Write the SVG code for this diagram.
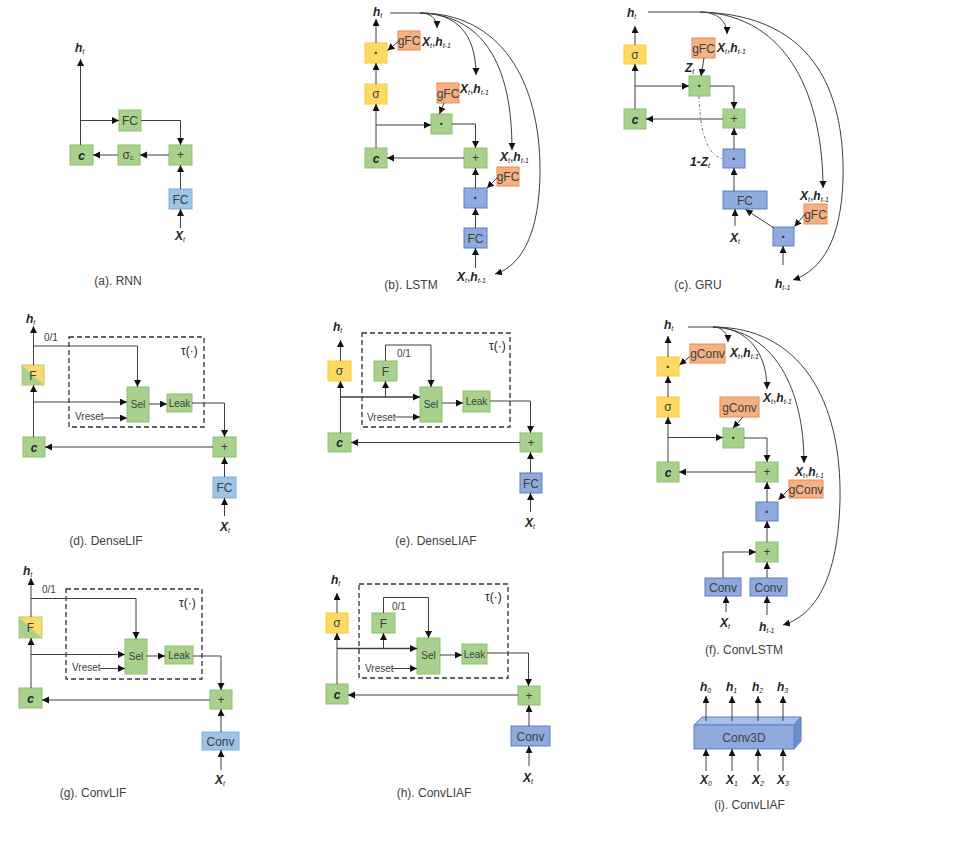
<svg xmlns="http://www.w3.org/2000/svg" width="958" height="852" viewBox="0 0 958 852">
<defs>
<marker id="ar" markerUnits="userSpaceOnUse" markerWidth="8" markerHeight="8" refX="7" refY="3.5" orient="auto"><path d="M0,0 L7,3.5 L0,7 z" fill="#111"/></marker>
<style>
text{font-family:"Liberation Sans",Arial,sans-serif;fill:#222}
.g{fill:#A9D18E;stroke:#8DC06A;stroke-width:1}
.bl{fill:#9DC3E6;stroke:#7BAFDE;stroke-width:1}
.bd{fill:#8FAADC;stroke:#5B7FCB;stroke-width:1}
.y{fill:#FFD966;stroke:#FFC72E;stroke-width:1}
.o{fill:#F4B183;stroke:#EC8A4E;stroke-width:1}
.t{font-size:12px;fill:#404040;text-anchor:middle}
.ts{font-size:10px;fill:#404040;text-anchor:middle}
.dot{font-size:14px;font-weight:bold;fill:#333;text-anchor:middle}
.cap{font-size:12px;fill:#404040;text-anchor:middle}
.v{font-style:italic;font-weight:bold;font-size:12px}
.s{font-style:italic;font-size:7px}
.sm{font-size:10px;fill:#404040}
.cl{font-style:italic;font-weight:bold;font-size:12px;text-anchor:middle}
.conn path{fill:none;stroke:#404040;stroke-width:1;marker-end:url(#ar)}
.dash{fill:none;stroke:#333;stroke-width:1.3;stroke-dasharray:5,3}
</style>
</defs>
<rect width="958" height="852" fill="#fff"/>

<!-- (a) RNN -->
<g id="a-c"><rect class="g" x="70" y="145" width="23" height="20"/><text class="cl" x="81.5" y="159.5">c</text></g>
<g id="a-fc1"><rect class="g" x="119" y="110" width="22" height="21"/><text class="t" x="130" y="125">FC</text></g>
<g id="a-sig"><rect class="g" x="118" y="145" width="22" height="20"/><text class="t" x="128" y="159">σ<tspan font-size="7" dy="1">c</tspan></text></g>
<g id="a-plus"><rect class="g" x="169" y="145" width="23" height="20"/><text class="t" x="180.5" y="159">+</text></g>
<g id="a-fc2"><rect class="bl" x="169" y="189" width="23" height="20"/><text class="t" x="180.5" y="203.5">FC</text></g>
<g id="a-labels"><text x="75" y="52"><tspan class="v">h</tspan><tspan class="s" dy="2">t</tspan></text>
<text x="175" y="240"><tspan class="v">X</tspan><tspan class="s" dy="2">t</tspan></text></g>
<g id="a-conn" class="conn">
<path d="M80.5,145 V59"/><path d="M80.5,120.5 H119"/><path d="M141,120.5 H180.5 V145"/>
<path d="M169,155 H140"/><path d="M118,155 H93"/><path d="M180.5,189 V165"/><path d="M180.5,228 V209"/>
</g>
<text class="cap" x="118" y="285">(a). RNN</text>

<!-- (b) LSTM -->
<g id="b-ydot"><rect class="y" x="365" y="43" width="22" height="20"/><text class="dot" x="376" y="58">·</text></g>
<g id="b-sig"><rect class="y" x="365" y="84" width="22" height="20"/><text class="t" x="376" y="98">σ</text></g>
<g id="b-c"><rect class="g" x="365" y="148" width="22" height="20"/><text class="cl" x="376" y="162.5">c</text></g>
<g id="b-gfc1"><rect class="o" x="398" y="31" width="22" height="19"/><text class="t" x="409" y="45">gFC</text></g>
<g id="b-gdot"><rect class="g" x="431" y="114" width="21" height="20"/><text class="dot" x="441.5" y="129">·</text></g>
<g id="b-gfc2"><rect class="o" x="437" y="83" width="22" height="20"/><text class="t" x="448" y="97.5">gFC</text></g>
<g id="b-plus"><rect class="g" x="464" y="148" width="23" height="20"/><text class="t" x="475.5" y="162">+</text></g>
<g id="b-bdot"><rect class="bd" x="464" y="188" width="23" height="20"/><text class="dot" x="475.5" y="203">·</text></g>
<g id="b-gfc3"><rect class="o" x="497" y="167" width="22" height="19"/><text class="t" x="508" y="181">gFC</text></g>
<g id="b-fc"><rect class="bd" x="464" y="228" width="23" height="20"/><text class="t" x="475.5" y="242.5">FC</text></g>
<g id="b-labels">
<text x="373" y="16"><tspan class="v">h</tspan><tspan class="s" dy="2">t</tspan></text>
<text x="422" y="46"><tspan class="v">X</tspan><tspan class="s" dy="2">t</tspan><tspan dy="-2" font-size="12">,</tspan><tspan class="v">h</tspan><tspan class="s" dy="2">t-1</tspan></text>
<text x="460" y="93"><tspan class="v">X</tspan><tspan class="s" dy="2">t</tspan><tspan dy="-2" font-size="12">,</tspan><tspan class="v">h</tspan><tspan class="s" dy="2">t-1</tspan></text>
<text x="500" y="161"><tspan class="v">X</tspan><tspan class="s" dy="2">t</tspan><tspan dy="-2" font-size="12">,</tspan><tspan class="v">h</tspan><tspan class="s" dy="2">t-1</tspan></text>
<text x="457" y="281"><tspan class="v">X</tspan><tspan class="s" dy="2">t</tspan><tspan dy="-2" font-size="12">,</tspan><tspan class="v">h</tspan><tspan class="s" dy="2">t-1</tspan></text>
</g>
<g id="b-conn" class="conn">
<path d="M376,148 V104"/><path d="M376,84 V63"/><path d="M376,43 V19"/>
<path d="M376,125 H431"/><path d="M452,124 H475.5 V148"/><path d="M464,158 H387"/>
<path d="M475.5,188 V168"/><path d="M475.5,228 V208"/><path d="M475.5,268 V248"/>
<path d="M399.5,40.5 L387.5,50.5"/><path d="M444,103 L439.5,114"/><path d="M498,177 L487,188"/>
<path d="M390,13 H420 C430,13 437,18 437,28"/>
<path d="M420,13 C455,13 476,32 476,75"/>
<path d="M420,13 C482,15 512,62 512,150"/>
<path d="M420,13 C500,13 540,80 540,170 C540,232 522,266 495,274"/>
</g>
<text class="cap" x="411" y="289">(b). LSTM</text>

<!-- (c) GRU -->
<g id="c-sig"><rect class="y" x="624" y="45" width="22" height="19"/><text class="t" x="635" y="59">σ</text></g>
<g id="c-c"><rect class="g" x="624" y="109" width="22" height="20"/><text class="cl" x="635" y="123.5">c</text></g>
<g id="c-gfc1"><rect class="o" x="692" y="38" width="23" height="20"/><text class="t" x="703.5" y="52.5">gFC</text></g>
<g id="c-gdot"><rect class="g" x="689" y="76" width="21" height="20"/><text class="dot" x="699.5" y="91">·</text></g>
<g id="c-plus"><rect class="g" x="723" y="109" width="22" height="19"/><text class="t" x="734" y="123">+</text></g>
<g id="c-bdot"><rect class="bd" x="723" y="149" width="22" height="19"/><text class="dot" x="734" y="163.5">·</text></g>
<g id="c-fc"><rect class="bd" x="723" y="191" width="44" height="18"/><text class="t" x="745" y="204.5">FC</text></g>
<g id="c-sdot"><rect class="bd" x="773" y="227" width="21" height="19"/><text class="dot" x="783.5" y="241.5">·</text></g>
<g id="c-gfc2"><rect class="o" x="804" y="204" width="23" height="20"/><text class="t" x="815.5" y="218.5">gFC</text></g>
<g id="c-labels">
<text x="627" y="17"><tspan class="v">h</tspan><tspan class="s" dy="2">t</tspan></text>
<text x="717" y="52"><tspan class="v">X</tspan><tspan class="s" dy="2">t</tspan><tspan dy="-2" font-size="12">,</tspan><tspan class="v">h</tspan><tspan class="s" dy="2">t-1</tspan></text>
<text x="685" y="72"><tspan class="v">Z</tspan><tspan class="s" dy="2">t</tspan></text>
<text x="690" y="166"><tspan class="v">1-Z</tspan><tspan class="s" dy="2">t</tspan></text>
<text x="730" y="242"><tspan class="v">X</tspan><tspan class="s" dy="2">t</tspan></text>
<text x="800" y="200"><tspan class="v">X</tspan><tspan class="s" dy="2">t</tspan><tspan dy="-2" font-size="12">,</tspan><tspan class="v">h</tspan><tspan class="s" dy="2">t-1</tspan></text>
<text x="775" y="288"><tspan class="v">h</tspan><tspan class="s" dy="2">t-1</tspan></text>
</g>
<g id="c-conn" class="conn">
<path d="M635,109 V64"/><path d="M635,45 V26"/><path d="M635,86 H689"/>
<path d="M710,86 H734 V109"/><path d="M723,119 H646"/><path d="M734,149 V128"/>
<path d="M734,191 V168"/><path d="M735,226 V209"/><path d="M774,228 L745.5,209.5"/>
<path d="M805,214 L794.5,226.5"/><path d="M783,265 V246"/><path d="M704,58 L701,76"/>
<path d="M648,12 H700 C716,12 727,20 727,34"/>
<path d="M700,12 C790,15 823,100 823,188"/>
<path d="M700,12 C820,15 845,100 843,180 C841,240 822,270 793,280"/>
</g>
<path d="M699,96 C700,130 706,155 723,159" fill="none" stroke="#555" stroke-width="0.8" stroke-dasharray="3,2,1,2"/>
<text class="cap" x="698" y="289">(c). GRU</text>

<!-- (d) DenseLIF -->
<g id="d-f"><polygon points="22,365 44,365 44,385" fill="#FFD966"/><polygon points="22,365 44,385 22,385" fill="#A9D18E"/><rect x="22" y="365" width="22" height="20" fill="none" stroke="#B5C97A"/><text class="t" x="33" y="379.5">F</text></g>
<g id="d-c"><rect class="g" x="23" y="437" width="22" height="20"/><text class="cl" x="34" y="451.5">c</text></g>
<rect id="d-tau" class="dash" x="69" y="337" width="135" height="90"/>
<g id="d-sel"><rect class="g" x="127" y="387" width="22" height="35"/><text class="ts" x="138" y="408">Sel</text></g>
<g id="d-leak"><rect class="g" x="167" y="394" width="25" height="18"/><text class="ts" x="179.5" y="407">Leak</text></g>
<g id="d-plus"><rect class="g" x="213" y="437" width="23" height="20"/><text class="t" x="224.5" y="451">+</text></g>
<g id="d-fc"><rect class="bl" x="213" y="477" width="23" height="21"/><text class="t" x="224.5" y="492">FC</text></g>
<g id="d-labels">
<text x="26" y="323"><tspan class="v">h</tspan><tspan class="s" dy="2">t</tspan></text>
<text x="181" y="355" font-size="12">τ(·)</text>
<text class="sm" x="44" y="341">0/1</text>
<text class="sm" x="75" y="420">Vreset</text>
<text x="220" y="531"><tspan class="v">X</tspan><tspan class="s" dy="2">t</tspan></text>
</g>
<g id="d-conn" class="conn">
<path d="M33.5,437 V385"/><path d="M33.5,365 V326"/><path d="M33.5,346 H137.5 V387"/>
<path d="M33.5,402 H127"/><path d="M103,418 H127"/><path d="M149,404 H167"/>
<path d="M192,403 H224.5 V437"/><path d="M213,447 H45"/><path d="M224.5,477 V457"/><path d="M224.5,516 V498"/>
</g>
<text class="cap" x="106" y="545">(d). DenseLIF</text>

<!-- (e) DenseLIAF -->
<g id="e-sig"><rect class="y" x="328" y="361" width="23" height="20"/><text class="t" x="339.5" y="375">σ</text></g>
<g id="e-c"><rect class="g" x="328" y="433" width="23" height="19"/><text class="cl" x="339.5" y="447">c</text></g>
<rect id="e-tau" class="dash" x="362" y="333" width="148" height="94"/>
<g id="e-f"><rect class="g" x="374" y="361" width="23" height="20"/><text class="t" x="385.5" y="375.5">F</text></g>
<g id="e-sel"><rect class="g" x="420" y="387" width="22" height="35"/><text class="ts" x="431" y="408">Sel</text></g>
<g id="e-leak"><rect class="g" x="463" y="391" width="27" height="21"/><text class="ts" x="476.5" y="405">Leak</text></g>
<g id="e-plus"><rect class="g" x="520" y="433" width="22" height="19"/><text class="t" x="531" y="447">+</text></g>
<g id="e-fc"><rect class="bd" x="520" y="473" width="22" height="20"/><text class="t" x="531" y="487.5">FC</text></g>
<g id="e-labels">
<text x="333" y="331"><tspan class="v">h</tspan><tspan class="s" dy="2">t</tspan></text>
<text x="489" y="350" font-size="12">τ(·)</text>
<text class="sm" x="397" y="357">0/1</text>
<text class="sm" x="367" y="421">Vreset</text>
<text x="525" y="527"><tspan class="v">X</tspan><tspan class="s" dy="2">t</tspan></text>
</g>
<g id="e-conn" class="conn">
<path d="M340.5,433 V381"/><path d="M340.5,361 V340"/><path d="M340.5,397 H420" style="stroke-width:1.4"/>
<path d="M385.5,397 V381"/><path d="M385.5,361 V345 H431 V387"/><path d="M395,417 H420"/>
<path d="M442,403 H463"/><path d="M490,401 H530.5 V433"/><path d="M520,442.5 H351"/>
<path d="M530.5,473 V452"/><path d="M530.5,512 V493"/>
</g>
<text class="cap" x="436" y="545">(e). DenseLIAF</text>

<!-- (f) ConvLSTM -->
<g id="f-ydot"><rect class="y" x="657" y="357" width="22" height="19"/><text class="dot" x="668" y="371.5">·</text></g>
<g id="f-gconv1"><rect class="o" x="690" y="344" width="35" height="19"/><text class="t" x="707.5" y="358">gConv</text></g>
<g id="f-sig"><rect class="y" x="657" y="397" width="22" height="20"/><text class="t" x="668" y="411">σ</text></g>
<g id="f-c"><rect class="g" x="657" y="462" width="22" height="20"/><text class="cl" x="668" y="476.5">c</text></g>
<g id="f-gdot"><rect class="g" x="723" y="428" width="21" height="20"/><text class="dot" x="733.5" y="443">·</text></g>
<g id="f-gconv2"><rect class="o" x="720" y="397" width="39" height="20"/><text class="t" x="739.5" y="411.5">gConv</text></g>
<g id="f-plus1"><rect class="g" x="756" y="462" width="22" height="20"/><text class="t" x="767" y="476">+</text></g>
<g id="f-bdot"><rect class="bd" x="756" y="502" width="22" height="19"/><text class="dot" x="767" y="516.5">·</text></g>
<g id="f-gconv3"><rect class="o" x="789" y="480" width="34" height="18"/><text class="t" x="806" y="493.5">gConv</text></g>
<g id="f-plus2"><rect class="g" x="756" y="542" width="22" height="20"/><text class="t" x="767" y="556">+</text></g>
<g id="f-conv1"><rect class="bd" x="705" y="578" width="36" height="18"/><text class="t" x="723" y="592" font-size="13">Conv</text></g>
<g id="f-conv2"><rect class="bd" x="750" y="578" width="37" height="18"/><text class="t" x="768.5" y="592" font-size="13">Conv</text></g>
<g id="f-labels">
<text x="664" y="329"><tspan class="v">h</tspan><tspan class="s" dy="2">t</tspan></text>
<text x="730" y="357"><tspan class="v">X</tspan><tspan class="s" dy="2">t</tspan><tspan dy="-2" font-size="12">,</tspan><tspan class="v">h</tspan><tspan class="s" dy="2">t-1</tspan></text>
<text x="763" y="402"><tspan class="v">X</tspan><tspan class="s" dy="2">t</tspan><tspan dy="-2" font-size="12">,</tspan><tspan class="v">h</tspan><tspan class="s" dy="2">t-1</tspan></text>
<text x="795" y="476"><tspan class="v">X</tspan><tspan class="s" dy="2">t</tspan><tspan dy="-2" font-size="12">,</tspan><tspan class="v">h</tspan><tspan class="s" dy="2">t-1</tspan></text>
<text x="720" y="627"><tspan class="v">X</tspan><tspan class="s" dy="2">t</tspan></text>
<text x="759" y="631"><tspan class="v">h</tspan><tspan class="s" dy="2">t-1</tspan></text>
</g>
<g id="f-conn" class="conn">
<path d="M668,462 V417"/><path d="M668,397 V376"/><path d="M668,357 V336"/>
<path d="M668,437.5 H723"/><path d="M744,438 H767 V462"/><path d="M756,472 H679"/>
<path d="M767,502 V482"/><path d="M767,542 V521"/><path d="M767,578 V562"/>
<path d="M723,578 V552 H756"/><path d="M726,612 V596"/><path d="M767,615 V596"/>
<path d="M690,356.5 L679.5,365"/><path d="M743,417 L733,428"/><path d="M789.5,488.5 L778.5,500"/>
<path d="M688,327 H713 C722,327 728,333 728,342"/>
<path d="M713,327 C745,327 767,350 767,389"/>
<path d="M713,327 C775,330 804,390 804,463"/>
<path d="M713,327 C800,327 842,400 840,500 C838,580 815,615 783,625"/>
</g>
<text class="cap" x="744" y="654">(f). ConvLSTM</text>

<!-- (g) ConvLIF -->
<g id="g-f"><polygon points="19,617 42,617 42,638" fill="#FFD966"/><polygon points="19,617 42,638 19,638" fill="#A9D18E"/><rect x="19" y="617" width="23" height="21" fill="none" stroke="#B5C97A"/><text class="t" x="30.5" y="632">F</text></g>
<g id="g-c"><rect class="g" x="19" y="688" width="23" height="20"/><text class="cl" x="30.5" y="702.5">c</text></g>
<rect id="g-tau" class="dash" x="66" y="589" width="136" height="90"/>
<g id="g-sel"><rect class="g" x="125" y="639" width="22" height="35"/><text class="ts" x="136" y="660">Sel</text></g>
<g id="g-leak"><rect class="g" x="165" y="646" width="28" height="18"/><text class="ts" x="179" y="659">Leak</text></g>
<g id="g-plus"><rect class="g" x="210" y="690" width="22" height="19"/><text class="t" x="221" y="704">+</text></g>
<g id="g-conv"><rect class="bl" x="202" y="732" width="37" height="18"/><text class="t" x="220.5" y="746" font-size="13">Conv</text></g>
<g id="g-labels">
<text x="23" y="575"><tspan class="v">h</tspan><tspan class="s" dy="2">t</tspan></text>
<text x="179" y="607" font-size="12">τ(·)</text>
<text class="sm" x="42" y="593">0/1</text>
<text class="sm" x="72" y="671">Vreset</text>
<text x="215" y="784"><tspan class="v">X</tspan><tspan class="s" dy="2">t</tspan></text>
</g>
<g id="g-conn" class="conn">
<path d="M31,688 V638"/><path d="M31,617 V578"/><path d="M31,598.5 H136 V639"/>
<path d="M31,654.5 H125"/><path d="M100,668.5 H125"/><path d="M147,656 H165"/>
<path d="M193,656 H221 V690"/><path d="M210,700 H42"/><path d="M221,732 V709"/><path d="M221,770 V750"/>
</g>
<text class="cap" x="93" y="797">(g). ConvLIF</text>

<!-- (h) ConvLIAF -->
<g id="h-sig"><rect class="y" x="326" y="613" width="22" height="20"/><text class="t" x="337" y="627">σ</text></g>
<g id="h-c"><rect class="g" x="326" y="684" width="22" height="20"/><text class="cl" x="337" y="698.5">c</text></g>
<rect id="h-tau" class="dash" x="359" y="584" width="149" height="94"/>
<g id="h-f"><rect class="g" x="372" y="613" width="23" height="20"/><text class="t" x="383.5" y="627.5">F</text></g>
<g id="h-sel"><rect class="g" x="417" y="638" width="23" height="36"/><text class="ts" x="428.5" y="659">Sel</text></g>
<g id="h-leak"><rect class="g" x="462" y="644" width="25" height="20"/><text class="ts" x="474.5" y="658">Leak</text></g>
<g id="h-plus"><rect class="g" x="518" y="686" width="22" height="19"/><text class="t" x="529" y="700">+</text></g>
<g id="h-conv"><rect class="bd" x="511" y="726" width="39" height="20"/><text class="t" x="530.5" y="741" font-size="13">Conv</text></g>
<g id="h-labels">
<text x="331" y="584"><tspan class="v">h</tspan><tspan class="s" dy="2">t</tspan></text>
<text x="485" y="601" font-size="12">τ(·)</text>
<text class="sm" x="392" y="610">0/1</text>
<text class="sm" x="365" y="672">Vreset</text>
<text x="523" y="782"><tspan class="v">X</tspan><tspan class="s" dy="2">t</tspan></text>
</g>
<g id="h-conn" class="conn">
<path d="M337,684 V633"/><path d="M337,613 V593"/><path d="M337,648.5 H417" style="stroke-width:1.4"/>
<path d="M383.5,648.5 V633"/><path d="M383.5,613 V597.5 H428.5 V638"/><path d="M392,668.5 H417"/>
<path d="M440,655 H462"/><path d="M487,653 H528.5 V686"/><path d="M518,695 H348"/>
<path d="M529,726 V705"/><path d="M529,766 V746"/>
</g>
<text class="cap" x="434" y="797">(h). ConvLIAF</text>

<!-- (i) Conv3D -->
<g id="i-conv3d">
<polygon points="694,725 702,717 801,717 794,725" fill="#A9BEE6" stroke="#5B7FCB"/>
<polygon points="794,725 801,717 801,741 794,749" fill="#6E8DCB" stroke="#5B7FCB"/>
<rect class="bd" x="694" y="725" width="100" height="24"/>
<text class="t" x="744" y="742" font-size="13">Conv3D</text>
</g>
<g id="i-labels">
<text x="700" y="691"><tspan class="v">h</tspan><tspan class="s" dy="2">0</tspan></text>
<text x="726" y="691"><tspan class="v">h</tspan><tspan class="s" dy="2">1</tspan></text>
<text x="752" y="691"><tspan class="v">h</tspan><tspan class="s" dy="2">2</tspan></text>
<text x="777" y="691"><tspan class="v">h</tspan><tspan class="s" dy="2">3</tspan></text>
<text x="700" y="784"><tspan class="v">X</tspan><tspan class="s" dy="2">0</tspan></text>
<text x="726" y="784"><tspan class="v">X</tspan><tspan class="s" dy="2">1</tspan></text>
<text x="752" y="784"><tspan class="v">X</tspan><tspan class="s" dy="2">2</tspan></text>
<text x="777" y="784"><tspan class="v">X</tspan><tspan class="s" dy="2">3</tspan></text>
</g>
<g id="i-conn" class="conn">
<path d="M706,721 V696"/><path d="M732,721 V696"/><path d="M758,721 V696"/><path d="M783,721 V696"/>
<path d="M706,771 V749"/><path d="M732,771 V749"/><path d="M758,771 V749"/><path d="M783,771 V749"/>
</g>
<text class="cap" x="749.5" y="809">(i). ConvLIAF</text>
</svg>
